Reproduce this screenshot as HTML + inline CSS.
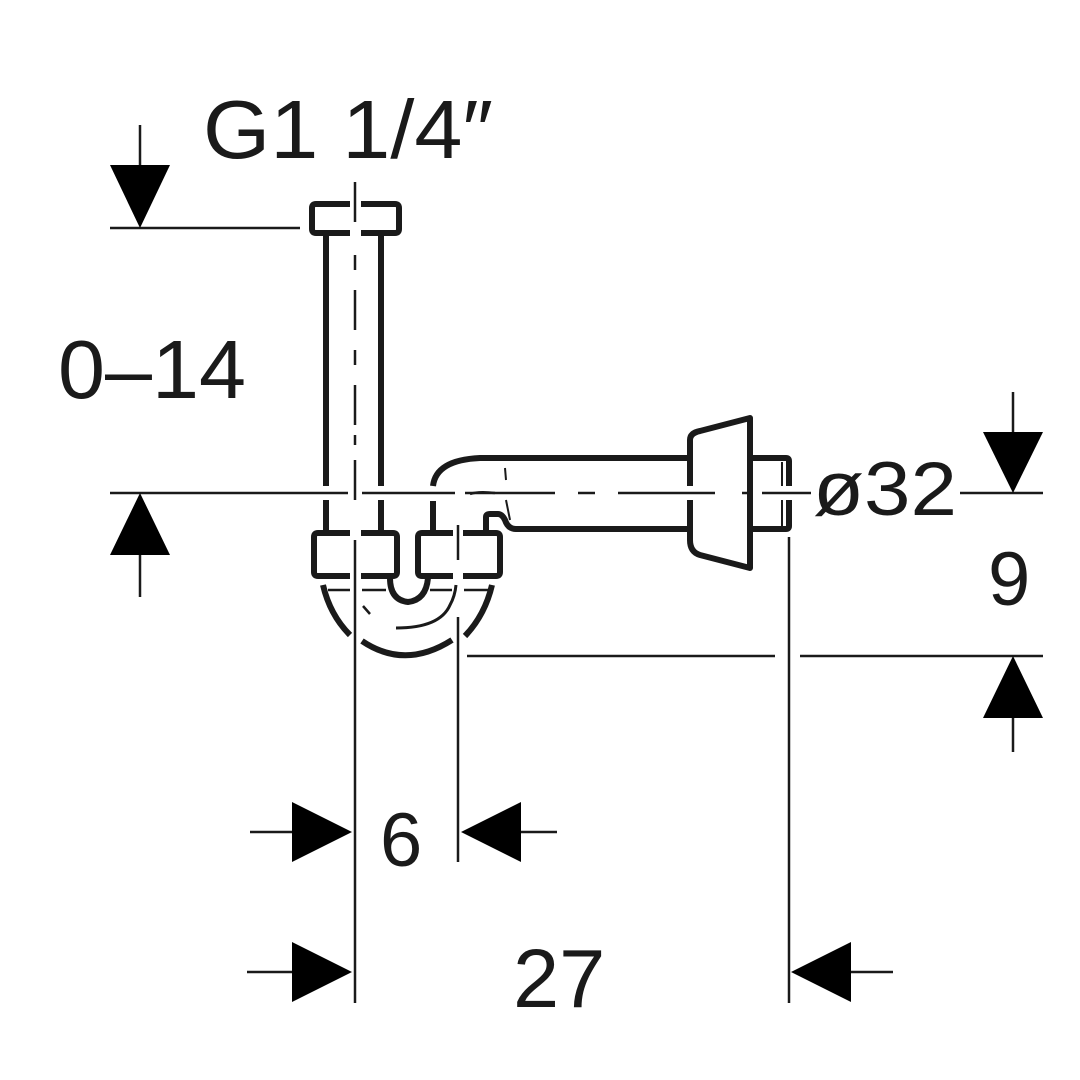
<!DOCTYPE html>
<html><head><style>html,body{margin:0;padding:0;background:#fff}svg{display:block}</style></head>
<body>
<svg width="1080" height="1080" viewBox="0 0 1080 1080" xmlns="http://www.w3.org/2000/svg">
<g fill="none" stroke="#1a1a1a" stroke-linejoin="round">
 <path d="M350 204 H316 Q312 204 312 208 V229 Q312 233 316 233 H350 M361 204 H395 Q399 204 399 208 V229 Q399 233 395 233 H361" stroke-width="6"/>
 <path d="M326 233 V486 M326 500 V531 M381 233 V486 M381 500 V531" stroke-width="6"/>
 <path d="M355 182 V222 M355 255 V270 M355 290 V330 M355 350 V365 M355 385 V425 M355 435 V445 M355 460 V500 M355 540 V1003" stroke-width="2.5"/>
 <path d="M350 533 H318 Q314 533 314 537 V572 Q314 576 318 576 H350 M361 533 H393 Q397 533 397 537 V572 Q397 576 393 576 H361" stroke-width="6"/>
 <path d="M453 533 H422 Q418 533 418 537 V572 Q418 576 422 576 H453 M463 533 H496 Q500 533 500 537 V572 Q500 576 496 576 H463" stroke-width="6"/>
 <path d="M433 501 V531" stroke-width="6"/>
 <path d="M458 525 V560" stroke-width="2.5"/>
 <path d="M458 617 V862" stroke-width="2.5"/>
 <path d="M328 590 H350 M362 590 H386 M430 590 H452 M464 590 H488" stroke-width="2.5"/>
 <path d="M390 578 Q390 600 408 602 Q426 600 428 578" stroke-width="6"/>
 <path d="M323 585 Q330 615 350 635" stroke-width="6"/>
 <path d="M362 641 Q405 670 452 640" stroke-width="6"/>
 <path d="M465 636 Q485 615 492 585" stroke-width="6"/>
 <path d="M396 628 Q440 628 450 605 Q455 596 456 585" stroke-width="3"/>
 <path d="M363 606 L370 614" stroke-width="2.5"/>
 <path d="M433 486 Q436 460 480 458 H690" stroke-width="6"/>
 <path d="M470 494 Q478 491 495 493" stroke-width="2.5"/>
 <path d="M486 531 V517 Q486 514 490 514 H498 Q502 514 505 520 Q508 529 516 529 H690" stroke-width="6"/>
 <path d="M505 468 L506 480 M506 500 L510 520" stroke-width="2"/>
 <path d="M690 458 V440 Q690 433 700 431 L750 418 V568 L700 555 Q690 552 690 540 V529" stroke-width="6"/>
 <path d="M690 458 V486 M690 500 V529 M750 458 V486 M750 500 V529" stroke-width="6"/>
 <path d="M750 458 H786 Q789 458 789 461 V486 M789 500 V526 Q789 529 786 529 H750" stroke-width="6"/>
 <path d="M782 462 V486 M782 500 V526" stroke-width="2"/>
 <path d="M789 537 V1003" stroke-width="2.5"/>
 <path d="M110 228 H300" stroke-width="2.5"/>
 <path d="M110 493 H348 M362 493 H455 M465 493 H555 M578 493 H595 M618 493 H715 M742 493 H752 M762 493 H811 M960 493 H1043" stroke-width="2.5"/>
 <path d="M467 656 H775 M800 656 H1043" stroke-width="2.5"/>
 <path d="M140 125 V165 M140 555 V597 M1013 392 V432 M1013 718 V752" stroke-width="2.5"/>
 <path d="M250 832 H292 M521 832 H557 M247 972 H292 M851 972 H893" stroke-width="2.5"/>
</g>
<g fill="#000">
 <polygon points="110,165 170,165 140,228"/>
 <polygon points="110,555 170,555 140,493"/>
 <polygon points="983,432 1043,432 1013,493"/>
 <polygon points="983,718 1043,718 1013,656"/>
 <polygon points="292,802 292,862 352,832"/>
 <polygon points="521,802 521,862 461,832"/>
 <polygon points="292,942 292,1002 352,972"/>
 <polygon points="851,942 851,1002 791,972"/>
</g>
<g fill="#1a1a1a" font-family="Liberation Sans, sans-serif" font-size="83">
 <text x="203" y="158" textLength="290" lengthAdjust="spacingAndGlyphs">G1 1/4″</text>
 <text x="58" y="398" textLength="188" lengthAdjust="spacingAndGlyphs">0–14</text>
 <text x="813" y="515" font-size="76" textLength="144" lengthAdjust="spacingAndGlyphs">ø32</text>
 <text x="988" y="605" font-size="76">9</text>
 <text x="380" y="866" font-size="76">6</text>
 <text x="513" y="1007" font-size="83">27</text>
</g>
</svg>
</body></html>
